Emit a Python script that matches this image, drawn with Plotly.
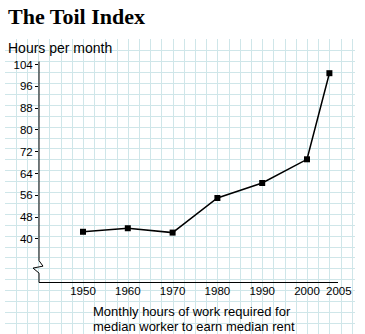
import numpy as np
import plotly.graph_objects as go

# ---- data ----
years = [1950, 1960, 1970, 1980, 1990, 2000, 2005]
hours = [42.6, 43.9, 42.3, 55.0, 60.5, 69.2, 100.8]
y_ticks = [40, 48, 56, 64, 72, 80, 88, 96, 104]
x_ticks = [1950, 1960, 1970, 1980, 1990, 2000]
x_tick_labels = ["1950", "1960", "1970", "1980", "1990", "2000"]
last_label = "2005"

W, H = 365, 334
SANS = "Liberation Sans, Arial, Helvetica, sans-serif"
SERIF = "Liberation Serif, Times New Roman, serif"
GRID = "#cfe6e9"


def px(x, y):
    return x / W, 1 - y / H


fig = go.Figure()

# graph-paper background axes (pixel-based), drawn first (x/y)
grid_x = list(np.arange(5, 356, 11.2))
grid_y = list(np.arange(37.3, 334, 11.0))
fig.add_trace(go.Scatter(x=[None], y=[None], xaxis="x", yaxis="y",
                         showlegend=False, hoverinfo="skip"))

# main series on x2/y2 (drawn above the grid)
fig.add_trace(go.Scatter(
    x=years, y=hours, mode="lines+markers", xaxis="x2", yaxis="y2",
    line=dict(color="black", width=1.5),
    marker=dict(symbol="square", size=6, color="black"),
    showlegend=False, cliponaxis=False,
))

# y-axis line with break
pts = [(39, 59), (39, 260), (43, 265.5), (33, 267.5), (39, 272.5), (39, 282)]
path = "M " + " L ".join(f"{px(a, b)[0]:.5f},{px(a, b)[1]:.5f}" for a, b in pts)
fig.add_shape(type="path", path=path, xref="paper", yref="paper",
              line=dict(color="black", width=1))

ann = [
    dict(text="<b>The Toil Index</b>", x=px(6, 0)[0], y=px(0, 13.5)[1], xanchor="left",
         yanchor="middle", font=dict(family=SERIF, size=22, color="black")),
    dict(text="Hours per month", x=px(6, 0)[0], y=px(0, 45)[1], xanchor="left",
         yanchor="middle", font=dict(family=SANS, size=14, color="black")),
    dict(text="Monthly hours of work required for", x=px(91, 0)[0], y=px(0, 311.5)[1],
         xanchor="left", yanchor="middle", font=dict(family=SANS, size=13, color="black")),
    dict(text="median worker to earn median rent", x=px(91, 0)[0], y=px(0, 326.5)[1],
         xanchor="left", yanchor="middle", font=dict(family=SANS, size=13, color="black")),
]
for a in ann:
    fig.add_annotation(xref="paper", yref="paper", showarrow=False, **a)

fig.add_annotation(text=last_label, x=2005, xref="x2", y=px(0, 290.5)[1], yref="paper",
                   xshift=10, showarrow=False, yanchor="middle",
                   font=dict(family=SANS, size=11.5, color="black"))

fig.update_layout(
    width=W, height=H,
    margin=dict(l=0, r=0, t=0, b=0),
    paper_bgcolor="white", plot_bgcolor="rgba(0,0,0,0)",
    xaxis=dict(domain=[5 / W, 355 / W], range=[5, 355], tickvals=grid_x,
               showgrid=True, gridcolor=GRID, gridwidth=1.3, showticklabels=False,
               zeroline=False, showline=False, ticks="", anchor="y"),
    yaxis=dict(domain=[0, (H - 36.5) / H], range=[334, 36.5], tickvals=grid_y,
               showgrid=True, gridcolor=GRID, gridwidth=1.3, showticklabels=False,
               zeroline=False, showline=False, ticks="", anchor="x"),
    xaxis2=dict(domain=[39 / W, 338 / W], range=[1940.18, 2006.92],
                showgrid=False, zeroline=False, showline=True, linecolor="black",
                linewidth=1, ticks="", tickvals=x_ticks, ticktext=x_tick_labels,
                ticklabelstandoff=-2,
                tickfont=dict(family=SANS, size=11.5, color="black"), anchor="y2"),
    yaxis2=dict(domain=[(H - 282) / H, (H - 59) / H], range=[24, 105.1],
                showgrid=False, zeroline=False, showline=False, ticks="outside",
                ticklen=3, tickcolor="black", tickwidth=1, tickvals=y_ticks,
                tickfont=dict(family=SANS, size=11.5, color="black"), anchor="x2"),
)

fig.write_html("out.html")
